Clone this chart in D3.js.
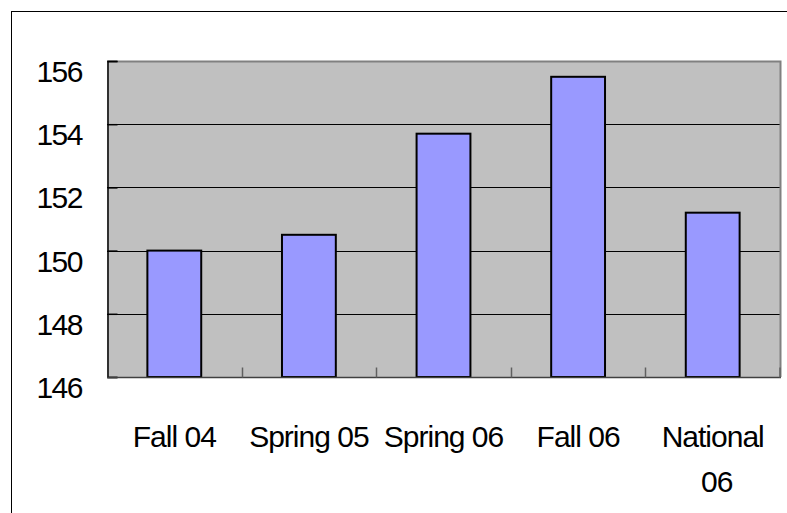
<!DOCTYPE html>
<html>
<head>
<meta charset="utf-8">
<script src="https://cdn.jsdelivr.net/npm/d3@7"></script>
<style>
  body { margin: 0; background: #fff; }
  text { font-family: "Liberation Sans", Arial, sans-serif; fill: #000; }
</style>
</head>
<body>
<div id="chart"></div>
<script>
// data
var categories = ["Fall 04", "Spring 05", "Spring 06", "Fall 06", "National 06"];
var scores = [150.0, 150.5, 153.7, 155.5, 151.2];
var yTicks = [146, 148, 150, 152, 154, 156];

var width = 787, height = 513;
var plot = { left: 107, top: 61, right: 780, bottom: 377 };

var svg = d3.select("#chart").append("svg")
    .attr("width", width)
    .attr("height", height);

// outer chart frame (clipped by the window on right and bottom)
svg.append("rect")
    .attr("x", 11.5).attr("y", 11.5)
    .attr("width", 800).attr("height", 600)
    .attr("fill", "#fff")
    .attr("stroke", "#000")
    .attr("stroke-width", 1);

var x = d3.scaleBand()
    .domain(categories)
    .range([plot.left, plot.right])
    .paddingInner(0).paddingOuter(0);

var y = d3.scaleLinear()
    .domain([146, 156])
    .range([plot.bottom, plot.top]);

// plot area background
svg.append("rect")
    .attr("x", plot.left).attr("y", plot.top)
    .attr("width", plot.right - plot.left)
    .attr("height", plot.bottom - plot.top)
    .attr("fill", "#c0c0c0");

// gridlines
svg.append("g")
    .selectAll("line")
    .data(yTicks.filter(d => d > 146 && d < 156))
    .enter().append("line")
    .attr("x1", plot.left).attr("x2", plot.right)
    .attr("y1", d => Math.round(y(d)) + 0.5)
    .attr("y2", d => Math.round(y(d)) + 0.5)
    .attr("stroke", "#000")
    .attr("stroke-width", 1);

// plot border top + right in grey
svg.append("path")
    .attr("d", "M" + plot.left + "," + (plot.top + 0.5) + "H" + (plot.right + 0.5) + "V" + plot.bottom)
    .attr("fill", "none")
    .attr("stroke", "#808080")
    .attr("stroke-width", 2);

// bars
var bw = x.bandwidth() * 0.4;
svg.append("g")
    .selectAll("rect")
    .data(categories)
    .enter().append("rect")
    .attr("x", (d) => x(d) + (x.bandwidth() - bw) / 2)
    .attr("y", (d, i) => y(scores[i]))
    .attr("width", bw)
    .attr("height", (d, i) => plot.bottom - y(scores[i]))
    .attr("fill", "#9999ff")
    .attr("stroke", "#000")
    .attr("stroke-width", 2);

// y axis
var yAxis = svg.append("g")
    .attr("transform", "translate(" + (plot.left + 0.5) + ",0)")
    .call(d3.axisRight(y).tickValues(yTicks).tickSize(10).tickFormat(""));
yAxis.select(".domain").attr("stroke", "#000").attr("stroke-width", 1.5);
yAxis.selectAll(".tick line").attr("stroke", "#000").attr("stroke-width", 1.5);

svg.append("g")
    .selectAll("text")
    .data(yTicks)
    .enter().append("text")
    .attr("x", 82)
    .attr("y", d => y(d) + 21)
    .attr("text-anchor", "end")
    .attr("font-size", 30)
    .attr("letter-spacing", -1.5)
    .text(d => d);

// x axis with tick marks between categories
var xAxis = svg.append("g")
    .attr("transform", "translate(0," + (plot.bottom + 0.5) + ")");
xAxis.append("line")
    .attr("x1", plot.left).attr("x2", plot.right + 1)
    .attr("stroke", "#404040").attr("stroke-width", 1.5);
xAxis.selectAll(".xtick")
    .data(categories.slice(1).concat(["end"]))
    .enter().append("line")
    .attr("class", "xtick")
    .attr("x1", (d, i) => i < categories.length - 1 ? Math.round(x(d)) + 0.5 : plot.right)
    .attr("x2", (d, i) => i < categories.length - 1 ? Math.round(x(d)) + 0.5 : plot.right)
    .attr("y1", 0).attr("y2", -10)
    .attr("stroke", "#606060").attr("stroke-width", 1.5);

// category labels (wrapped like the original)
var labels = svg.append("g")
    .selectAll("text")
    .data(categories)
    .enter().append("text")
    .attr("x", d => x(d) + x.bandwidth() / 2)
    .attr("y", 447)
    .attr("text-anchor", "middle")
    .attr("font-size", 30)
    .attr("letter-spacing", -1);

labels.each(function (d) {
    var t = d3.select(this);
    if (d === "National 06") {
        t.append("tspan").attr("x", x(d) + x.bandwidth() / 2).text("National");
        t.append("tspan").attr("x", x(d) + x.bandwidth() / 2 + 4).attr("dy", 45).text("06");
    } else {
        t.text(d);
    }
});
</script>
</body>
</html>
